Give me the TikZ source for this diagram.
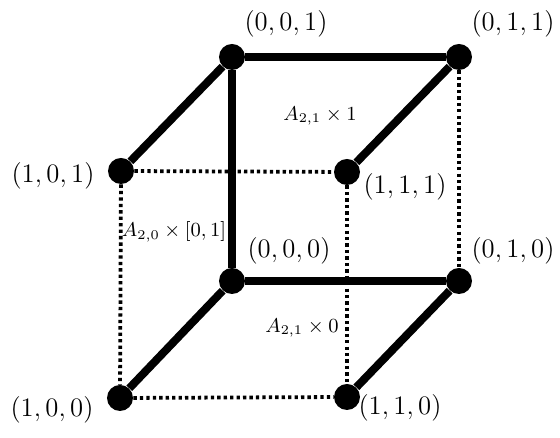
\documentclass[tikz,border=0pt]{standalone}
\usepackage{amsmath, amssymb}
\usepackage{tikz}
\usetikzlibrary{calc}
\tikzset{
  vertex/.style={
    circle, fill=black, inner sep=0pt, minimum size=11.7pt
  },
  solidedge/.style={
    line width=3.6pt
  },
  hiddenedge/.style={
    line width=1.7pt,
    dash pattern=on 1.5pt off 1.4pt
  },
  vlabel/.style={
    font=\large, inner sep=0pt
  },
  facelabel/.style={
    font=\small, inner sep=0pt
  }
}

\begin{document}
\begin{tikzpicture}[x=0.45pt, y=0.45pt]
  \useasboundingbox (0,0) rectangle (560,438);

  % ── vertices of the cube ─────────────────────────────────────────
  \node[vertex] (v001) at (232,381) {};
  \node[vertex] (v011) at (459,381) {};
  \node[vertex] (v101) at (121,267) {};
  \node[vertex] (v111) at (347,266) {};
  \node[vertex] (v000) at (232,157) {};
  \node[vertex] (v010) at (459,157) {};
  \node[vertex] (v100) at (120,40)  {};
  \node[vertex] (v110) at (347,41)  {};

  % hidden edges
  \draw[hiddenedge] (v101) -- (v111);
  \draw[hiddenedge] (v101) -- (v100);
  \draw[hiddenedge] (v111) -- (v110);
  \draw[hiddenedge] (v011) -- (v010);
  \draw[hiddenedge] (v100) -- (v110);

  % solid edges
  \draw[solidedge] (v001) -- (v011);
  \draw[solidedge] (v001) -- (v101);
  \draw[solidedge] (v001) -- (v000);
  \draw[solidedge] (v011) -- (v111);
  \draw[solidedge] (v000) -- (v010);
  \draw[solidedge] (v000) -- (v100);
  \draw[solidedge] (v010) -- (v110);

  \foreach \v/\lbl/\dx/\dy in {001/{(0,0,1)}/54/33, 011/{(0,1,1)}/54/33,
                               101/{(1,0,1)}/-68/-5, 111/{(1,1,1)}/58/-15,
                               000/{(0,0,0)}/57/30,  010/{(0,1,0)}/54/30,
                               100/{(1,0,0)}/-68/-12, 110/{(1,1,0)}/53/-11}
    { \node[vlabel] (l\v) at ([shift={(\dx,\dy)}]v\v.center) {$\lbl$}; }

  % ── face labels ──────────────────────────────────────────────────
  \node[facelabel] (ftop)  at (320,322) {$A_{2,1}\times 1$};
  \node[facelabel] (fside) at (174,206) {$A_{2,0}\times[0,1]$};
  \node[facelabel] (fbot)  at (302,110) {$A_{2,1}\times 0$};
\end{tikzpicture}
\end{document}
